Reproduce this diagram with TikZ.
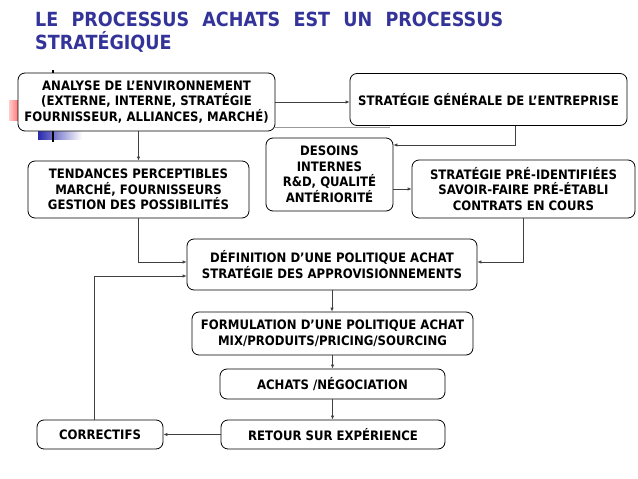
\documentclass[tikz,border=0pt]{standalone}
\usepackage{fontspec}
\usetikzlibrary{arrows.meta,positioning}
\newfontfamily\boxfont{DejaVu Sans}[FakeStretch=0.9]
\definecolor{titleblue}{RGB}{51,51,153}
\tikzset{
  etape/.style={draw=black, line width=0.8pt, rounded corners=7pt, fill=white, align=center, inner sep=0pt,
    font=\boxfont\bfseries\fontsize{13}{15.5}\selectfont},
  fleche/.style={draw=black!75, line width=0.8pt, -{Latex[length=4pt,width=3.5pt]}},
}

\begin{document}
\begin{tikzpicture}[x=1pt,y=-1pt]
	\useasboundingbox (0,0) rectangle (638,479);
	% decor of the slide
	\shade[left color=red!20, right color=red!60] (9,100) rectangle (20,120);
	\shade[left color=titleblue!80!blue, right color=white] (38,131.5) rectangle (82,139.5);
	\draw[line width=1.2pt] (53,70) -- (53,142);

	\node[anchor=north west, inner sep=0pt, text width=468pt, align=justify, text=titleblue,
	  font=\boxfont\bfseries\fontsize{19.5}{23}\selectfont] (titre) at (35,12)
	  {LE PROCESSUS ACHATS EST UN PROCESSUS\linebreak STRATÉGIQUE};

	\draw[black!40, line width=0.8pt] (275,127.5) coordinate (g1) -- (390,127.5) coordinate (g2);

	\node[etape, minimum width=257pt, minimum height=58pt] (analyse) at (146.5,102)
	  {ANALYSE DE L’ENVIRONNEMENT\\(EXTERNE, INTERNE, STRATÉGIE\\FOURNISSEUR, ALLIANCES, MARCHÉ)};
	\node[etape, minimum width=277pt, minimum height=52pt] (generale) at (488.5,99.5)
	  {STRATÉGIE GÉNÉRALE DE L’ENTREPRISE};
	\node[etape, minimum width=221pt, minimum height=57pt] (tendances) at (138.5,189.5)
	  {TENDANCES PERCEPTIBLES\\MARCHÉ, FOURNISSEURS\\GESTION DES POSSIBILITÉS};
	\node[etape, minimum width=127pt, minimum height=73pt] (besoins) at (329.5,174.5)
	  {DESOINS\\INTERNES\\R\&D, QUALITÉ\\ANTÉRIORITÉ};
	\node[etape, minimum width=223pt, minimum height=58pt] (preident) at (523.5,189)
	  {STRATÉGIE PRÉ-IDENTIFIÉES\\SAVOIR-FAIRE PRÉ-ÉTABLI\\CONTRATS EN COURS};
	\node[etape, minimum width=290pt, minimum height=51pt] (politique) at (332,264.5)
	  {DÉFINITION D’UNE POLITIQUE ACHAT\\STRATÉGIE DES APPROVISIONNEMENTS};
	\node[etape, minimum width=281pt, minimum height=43pt] (formulation) at (332.5,333.5)
	  {FORMULATION D’UNE POLITIQUE ACHAT\\MIX/PRODUITS/PRICING/SOURCING};
	\node[etape, minimum width=225pt, minimum height=30pt] (achats) at (332.5,384) {ACHATS /NÉGOCIATION};
	\node[etape, minimum width=224pt, minimum height=29pt] (retour) at (333,434.5) {RETOUR SUR EXPÉRIENCE};
	\node[etape, minimum width=126pt, minimum height=29pt] (correctifs) at (100,434.5) {CORRECTIFS};

	\draw[fleche] (analyse) -- (analyse -| generale.west);
	\draw[fleche] (analyse.south -| tendances.north) -- (tendances.north);
	\coordinate (coude) at (515,145);
	\draw[fleche] (generale.south -| coude) |- (besoins.east |- coude);
	\draw[fleche] (besoins.east |- preident) -- (preident.west);
	\draw[fleche] (tendances.south) |- ([yshift=2.5pt]politique.west);
	\draw[fleche] (preident.south) |- ([yshift=2.5pt]politique.east);
	\draw[fleche] ([xshift=-6pt]correctifs.north) |- ([yshift=-11.5pt]politique.west);
	\draw[fleche] (politique.south) -- (politique.south |- formulation.north);
	\draw[fleche] (formulation.south) -- (formulation.south |- achats.north);
	\draw[fleche] (achats.south) -- (achats.south |- retour.north);
	\draw[fleche] (retour.west) -- (correctifs.east);
\end{tikzpicture}
\end{document}
